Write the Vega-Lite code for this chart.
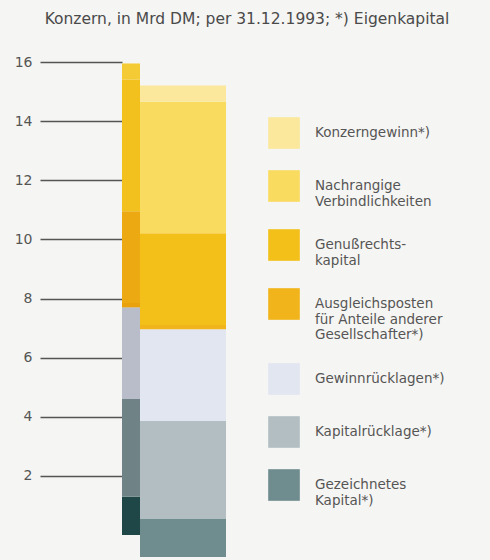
{
  "$schema": "https://vega.github.io/schema/vega-lite/v6.json",
  "autosize": "none",
  "width": 108,
  "height": 473,
  "padding": {"left": 122, "right": 260, "top": 62, "bottom": 25},
  "background": "#F5F5F3",
  "title": {
    "text": "Konzern, in Mrd DM; per 31.12.1993; *) Eigenkapital",
    "fontSize": 15.5,
    "font": "DejaVu Sans",
    "fontWeight": "normal",
    "color": "#4A4A4A",
    "anchor": "middle",
    "dx": 71,
    "offset": 28
  },
  "data": {
    "values": [
      {"rank": 1, "kategorie": "Gezeichnetes|Kapital*)", "wert": 1.3},
      {"rank": 2, "kategorie": "Kapitalrücklage*)", "wert": 3.3},
      {"rank": 3, "kategorie": "Gewinnrücklagen*)", "wert": 3.1},
      {"rank": 4, "kategorie": "Ausgleichsposten|für Anteile anderer|Gesellschafter*)", "wert": 0.15},
      {"rank": 5, "kategorie": "Genußrechts-|kapital", "wert": 3.1},
      {"rank": 6, "kategorie": "Nachrangige|Verbindlichkeiten", "wert": 4.45},
      {"rank": 7, "kategorie": "Konzerngewinn*)", "wert": 0.55}
    ]
  },
  "layer": [
    {
      "mark": {"type": "bar", "width": 18, "xOffset": -45},
      "encoding": {
        "y": {
          "field": "wert",
          "type": "quantitative",
          "stack": "zero",
          "scale": {"domain": [0, 16], "nice": false},
          "axis": {
            "values": [2, 4, 6, 8, 10, 12, 14, 16],
            "tickSize": 82,
            "tickColor": "#555555",
            "tickWidth": 1.3,
            "domain": false,
            "grid": false,
            "labelPadding": 8,
            "labelFontSize": 14,
            "labelFont": "DejaVu Sans",
            "labelColor": "#555555",
            "title": null
          }
        },
        "order": {"field": "rank", "type": "quantitative"},
        "color": {
          "field": "kategorie",
          "type": "nominal",
          "legend": null,
          "scale": {
            "domain": ["Konzerngewinn*)", "Nachrangige|Verbindlichkeiten", "Genußrechts-|kapital", "Ausgleichsposten|für Anteile anderer|Gesellschafter*)", "Gewinnrücklagen*)", "Kapitalrücklage*)", "Gezeichnetes|Kapital*)"],
            "range": ["#F4CB35", "#F2C11E", "#ECA911", "#E9A10E", "#B9BDC9", "#6F8386", "#1F4747"]
          }
        }
      }
    },
    {
      "mark": {"type": "bar", "width": 86, "xOffset": 7, "yOffset": 22},
      "encoding": {
        "y": {"field": "wert", "type": "quantitative", "stack": "zero"},
        "order": {"field": "rank", "type": "quantitative"},
        "color": {
          "field": "kategorie",
          "type": "nominal",
          "scale": {
            "domain": ["Konzerngewinn*)", "Nachrangige|Verbindlichkeiten", "Genußrechts-|kapital", "Ausgleichsposten|für Anteile anderer|Gesellschafter*)", "Gewinnrücklagen*)", "Kapitalrücklage*)", "Gezeichnetes|Kapital*)"],
            "range": ["#FBE89C", "#F9DB60", "#F3C019", "#F1B51B", "#E2E6F0", "#B3BEC2", "#6F8C8E"]
          },
          "legend": {
            "orient": "none",
            "legendX": 146,
            "legendY": 55,
            "title": null,
            "symbolType": "square",
            "symbolSize": 1000,
            "symbolStrokeWidth": 0,
            "symbolOpacity": 1,
            "labelExpr": "split(datum.label, '|')",
            "labelFontSize": 13.5,
            "labelFont": "DejaVu Sans",
            "labelColor": "#555555",
            "labelOffset": 15,
            "labelLimit": 300,
            "rowPadding": 21
          }
        }
      }
    }
  ],
  "resolve": {"scale": {"color": "independent"}},
  "config": {"view": {"stroke": null}}
}
